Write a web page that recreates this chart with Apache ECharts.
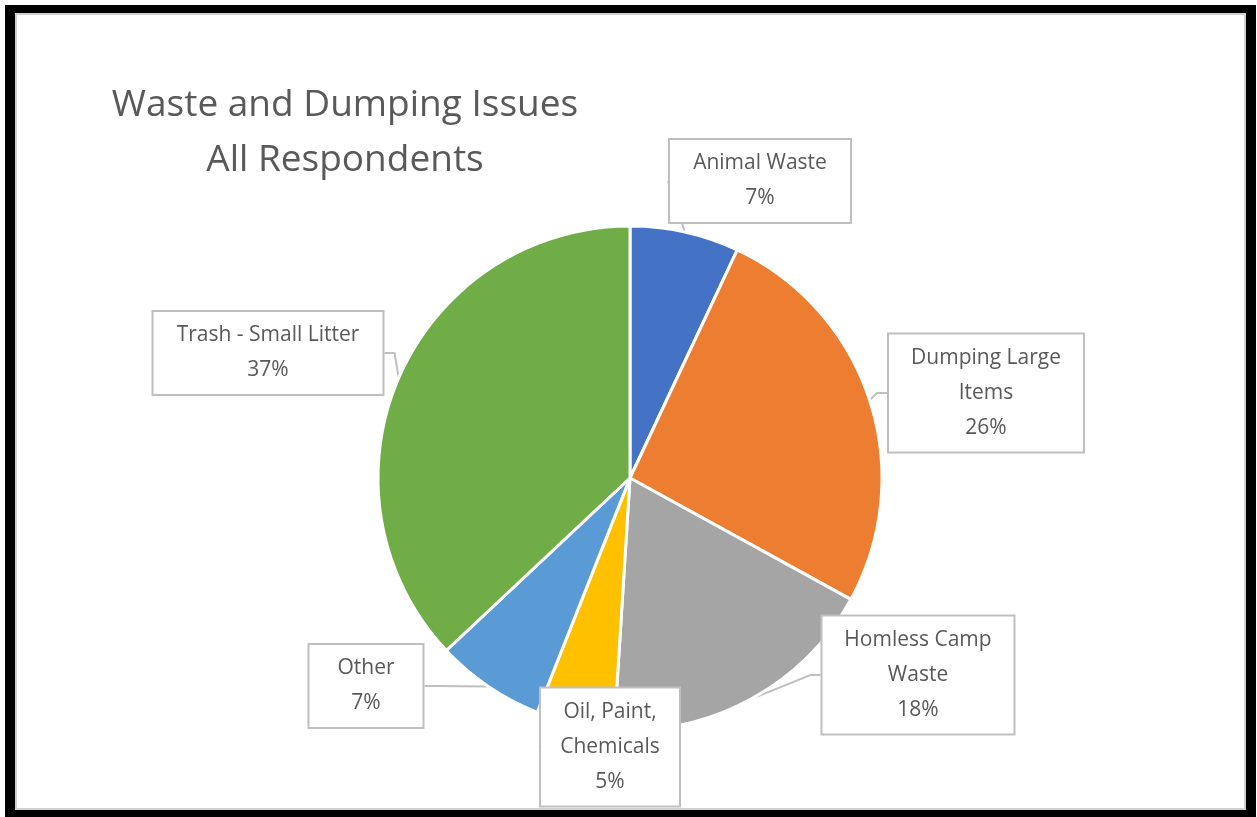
<!DOCTYPE html>
<html>
<head>
<meta charset="utf-8">
<script src="https://cdn.jsdelivr.net/npm/echarts@6/dist/echarts.min.js"></script>
<style>
  html, body { margin: 0; padding: 0; background: #fff; }
  #chart { position: absolute; left: 0; top: 0; width: 1257px; height: 817px; }
  .frame {
    position: absolute; left: 5px; top: 5px; width: 1231px; height: 797px;
    border-style: solid; border-color: #000;
    border-width: 8px 10px 7px 10px;
    pointer-events: none;
  }
  .frame-inner {
    position: absolute; left: 0; top: 0; right: 0; bottom: 0;
    border: 2px solid #d0d0d0;
  }
</style>
</head>
<body>
<div id="chart"></div>
<div class="frame"><div class="frame-inner"></div></div>
<script>
const categories = ['Animal Waste', 'Dumping Large Items', 'Homless Camp Waste', 'Oil, Paint, Chemicals', 'Other', 'Trash-Small Litter'];
const values = [7, 26, 18, 5, 7, 37];
const colors = ['#4472C4', '#ED7D31', '#A5A5A5', '#FFC000', '#5B9BD5', '#70AD47'];

// label text as wrapped in the callout boxes
const labelNames = ['Animal Waste', 'Dumping Large\nItems', 'Homless Camp\nWaste', 'Oil, Paint,\nChemicals', 'Other', 'Trash - Small Litter'];
// callout box centres (px) and widths
const labelPos = [[760, 181], [986, 393], [918, 675], [610, 747], [366, 686], [268, 353]];
const labelWidth = [152, 166, 163, 110, 85, 201];

const chart = echarts.init(document.getElementById('chart'));
const option = {
  animation: false,
  title: {
    text: 'Waste and Dumping Issues\nAll Respondents',
    left: 340,
    top: 73,
    textAlign: 'center',
    textStyle: {
      fontFamily: 'Open Sans',
      fontSize: 37,
      fontWeight: 'normal',
      color: '#595959',
      lineHeight: 55,
    },
  },
  series: [
    {
      type: 'pie',
      center: [630, 478],
      radius: 252,
      startAngle: 90,
      clockwise: true,
      itemStyle: { borderColor: '#fff', borderWidth: 3 },
      data: categories.map((name, i) => ({
        name,
        value: values[i],
        itemStyle: { color: colors[i] },
        label: { width: labelWidth[i] },
      })),
      label: {
        show: true,
        formatter: (p) => labelNames[p.dataIndex] + '\n' + Math.round(p.percent) + '%',
        fontFamily: 'Open Sans',
        fontSize: 21,
        lineHeight: 35,
        color: '#595959',
        align: 'center',
        backgroundColor: '#fff',
        borderColor: '#BFBFBF',
        borderWidth: 2,
        padding: [6, 14],
      },
      labelLine: {
        show: true,
        length: 10,
        length2: 10,
        lineStyle: { color: '#BFBFBF', width: 2 },
      },
      labelLayout: (p) => ({
        x: labelPos[p.dataIndex][0],
        y: labelPos[p.dataIndex][1],
        align: 'center',
        verticalAlign: 'middle',
      }),
    },
  ],
};
chart.setOption(option);
</script>
</body>
</html>
